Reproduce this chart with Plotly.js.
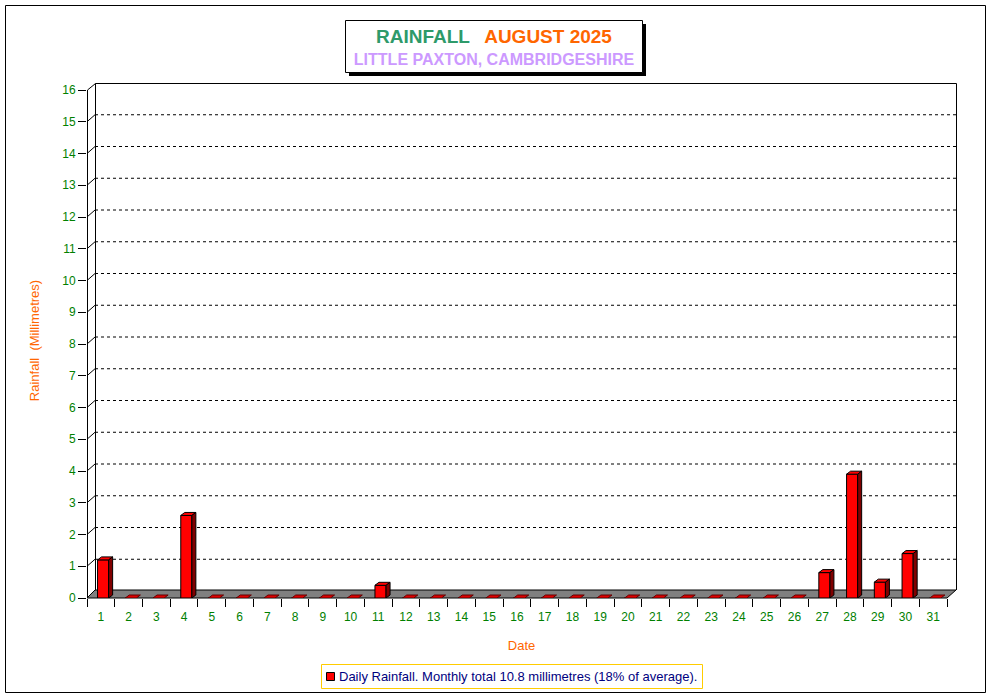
<!DOCTYPE html>
<html>
<head>
<meta charset="utf-8">
<script src="https://cdn.plot.ly/plotly-3.0.1.min.js"></script>
<style>html,body{margin:0;padding:0;background:#fff;}</style>
</head>
<body>
<div id="chart" style="width:991px;height:698px;"></div>
<script>
// ---------------- DATA ----------------
const days = [1,2,3,4,5,6,7,8,9,10,11,12,13,14,15,16,17,18,19,20,21,22,23,24,25,26,27,28,29,30,31];
const dayLabels = ['1','2','3','4','5','6','7','8','9','10','11','12','13','14','15','16','17','18','19','20','21','22','23','24','25','26','27','28','29','30','31'];
const rainfall = [1.2,0,0,2.6,0,0,0,0,0,0,0.4,0,0,0,0,0,0,0,0,0,0,0,0,0,0,0,0.8,3.9,0.5,1.4,0];
const yTickVals = [0,1,2,3,4,5,6,7,8,9,10,11,12,13,14,15,16];
const percentOfAverage = 18;
const titleMain = 'RAINFALL';
const titleMonth = 'AUGUST 2025';
const titleSub = 'LITTLE PAXTON, CAMBRIDGESHIRE';
const yTitle = 'Rainfall\u00a0\u00a0(Millimetres)';
const xTitle = 'Date';
const seriesName = 'Daily Rainfall';

// ---------------- GEOMETRY ----------------
const FONT = 'Liberation Sans, Arial, sans-serif';
const L = 87, R = 956, T = 83, B = 598;     // plot area (incl. 3D back wall)
const W = R - L, H = B - T;
const FRONT_RIGHT = 947;                    // front edge of the x axis
const ppx = (FRONT_RIGHT - L) / days.length; // pixels per day
const xMin = 0.5, xMax = xMin + W / ppx;
const ppy = (B - 90) / 16;                  // pixels per mm
const yMax = H / ppy;
const DX = 8, DY = 7;                       // wall depth
const BDX = 4, BDY = 3;                     // bar depth
const barWidth = 0.40, barOffset = -0.12;

const px = v => (v - L) / W;   // pixel -> paper
const py = v => (B - v) / H;

const total = rainfall.reduce((a, b) => a + b, 0);

const shapes = [];
// outer border
shapes.push({type:'rect', xref:'paper', yref:'paper', x0:px(5.5), x1:px(985.5), y0:py(5.5), y1:py(692.5),
  line:{color:'#000', width:1}, fillcolor:'rgba(0,0,0,0)', layer:'below'});
// title box shadow + box
shapes.push({type:'rect', xref:'paper', yref:'paper', x0:px(349), x1:px(646), y0:py(24), y1:py(76),
  line:{width:0}, fillcolor:'#000', layer:'above'});
shapes.push({type:'rect', xref:'paper', yref:'paper', x0:px(345.5), x1:px(642.5), y0:py(20.5), y1:py(72.5),
  line:{color:'#000', width:1}, fillcolor:'#fff', layer:'above'});
// floor
shapes.push({type:'path', xref:'paper', yref:'paper',
  path:`M${px(87)},${py(598)} L${px(FRONT_RIGHT)},${py(598)} L${px(FRONT_RIGHT+DX+1)},${py(598-DY-1)} L${px(87+DX)},${py(598-DY-1)} Z`,
  fillcolor:'#808080', line:{color:'#000', width:1}, layer:'below'});
// left axis line
shapes.push({type:'line', xref:'paper', yref:'paper', x0:px(87.5), x1:px(87.5), y0:py(598), y1:py(90),
  line:{color:'#000', width:1}, layer:'below'});
// back wall outline
shapes.push({type:'path', xref:'paper', yref:'paper',
  path:`M${px(95.5)},${py(590)} L${px(95.5)},${py(83.5)} L${px(956.5)},${py(83.5)} L${px(956.5)},${py(590)}`,
  line:{color:'#000', width:1}, layer:'below'});
// top diagonal
shapes.push({type:'line', xref:'paper', yref:'paper', x0:px(87.5), x1:px(95.5), y0:py(90), y1:py(83.5),
  line:{color:'#000', width:1}, layer:'below'});
// gridlines on back wall + diagonal connectors
yTickVals.forEach(k => {
  if (k === 0 || k === 16) return;
  shapes.push({type:'line', xref:'x', yref:'y', xsizemode:'pixel', xanchor:xMin, ysizemode:'pixel', yanchor:k,
    x0:DX, x1:W, y0:DY, y1:DY, line:{color:'#000', width:1, dash:'3px,3px'}, layer:'below'});
  shapes.push({type:'path', xref:'x', yref:'y', xsizemode:'pixel', xanchor:xMin, ysizemode:'pixel', yanchor:k,
    path:`M0,0 L${DX},${DY}`, line:{color:'#000', width:1}, layer:'below'});
});
// 3D bar faces
const lPx = barOffset * ppx, rPx = (barOffset + barWidth) * ppx;
days.forEach((d, i) => {
  const v = rainfall[i];
  // top face
  shapes.push({type:'path', xref:'x', yref:'y', xsizemode:'pixel', xanchor:d, ysizemode:'pixel', yanchor:v,
    path:`M${lPx},0 L${lPx+BDX},${BDY} L${rPx+BDX},${BDY} L${rPx},0 Z`,
    fillcolor: v > 0 ? '#FF0000' : '#E00000', line:{color: v > 0 ? '#000' : '#600000', width:1}, layer:'above'});
  if (v > 0) {
    const dyData = BDY / ppy;
    shapes.push({type:'path', xref:'x', yref:'y', xsizemode:'pixel', xanchor:d,
      path:`M${rPx},${v} L${rPx+BDX},${v+dyData} L${rPx+BDX},${dyData} L${rPx},0 Z`,
      fillcolor:'#800000', line:{color:'#000', width:1}, layer:'above'});
  }
});
// legend box
shapes.push({type:'rect', xref:'paper', yref:'paper', x0:px(321.5), x1:px(702.5), y0:py(664.5), y1:py(688.5),
  line:{color:'#FFCC00', width:1}, fillcolor:'#fff', layer:'above'});
shapes.push({type:'rect', xref:'paper', yref:'paper', x0:px(326.5), x1:px(334.5), y0:py(672.5), y1:py(680.5),
  line:{color:'#000', width:1}, fillcolor:'#FF0000', layer:'above'});

const annotations = [{
  xref:'paper', yref:'paper', x:px(337), y:py(676.5), xanchor:'left', yanchor:'middle', showarrow:false,
  text:`${seriesName}. Monthly total ${total.toFixed(1)} millimetres (${percentOfAverage}% of average).`,
  font:{family:FONT, size:13, color:'#000080'}
}];

const trace = {
  type:'bar', x:days, y:rainfall, width:barWidth, offset:barOffset, name:seriesName,
  marker:{color:'#FF0000', line:{color:'#000', width:1}},
  showlegend:false, hoverinfo:'x+y'
};

const layout = {
  width:991, height:698,
  margin:{l:L, r:991-R, t:T, b:698-B, pad:0},
  paper_bgcolor:'#fff', plot_bgcolor:'rgba(0,0,0,0)',
  font:{family:FONT, size:12, color:'#000'},
  showlegend:false,
  title:{
    text:`<b><span style="color:#2E9A6A;font-size:19px">${titleMain}</span>\u00a0\u00a0\u00a0<span style="color:#FF6600;font-size:19px">${titleMonth}</span></b><br><b><span style="color:#CC99FF;font-size:16px">${titleSub}</span></b>`,
    font:{family:FONT, size:17},
    xref:'container', yref:'container', x:494/991, xanchor:'center', y:1-43/698, yanchor:'middle'
  },
  xaxis:{
    range:[xMin, xMax], tickmode:'array', tickvals:days, ticktext:dayLabels,
    ticks:'outside', ticklen:8, tickcolor:'rgba(0,0,0,0)',
    tickfont:{family:FONT, size:12, color:'#008000'},
    minor:{tickmode:'linear', tick0:0.5, dtick:1, ticks:'outside', ticklen:8, tickcolor:'#000', tickwidth:1, showgrid:false},
    showgrid:false, zeroline:false, showline:false, fixedrange:true,
    title:{text:xTitle, font:{family:FONT, size:13, color:'#FF6600'}, standoff:17}
  },
  yaxis:{
    range:[0, yMax], tickmode:'array', tickvals:yTickVals,
    ticks:'outside', ticklen:8, tickcolor:'#000', tickwidth:1,
    tickfont:{family:FONT, size:12, color:'#008000'},
    showgrid:false, zeroline:false, showline:false, fixedrange:true,
    title:{text:yTitle, font:{family:FONT, size:13, color:'#FF6600'}, standoff:19}
  },
  shapes:shapes,
  annotations:annotations
};

Plotly.newPlot('chart', [trace], layout, {staticPlot:true, displayModeBar:false});
</script>
</body>
</html>
